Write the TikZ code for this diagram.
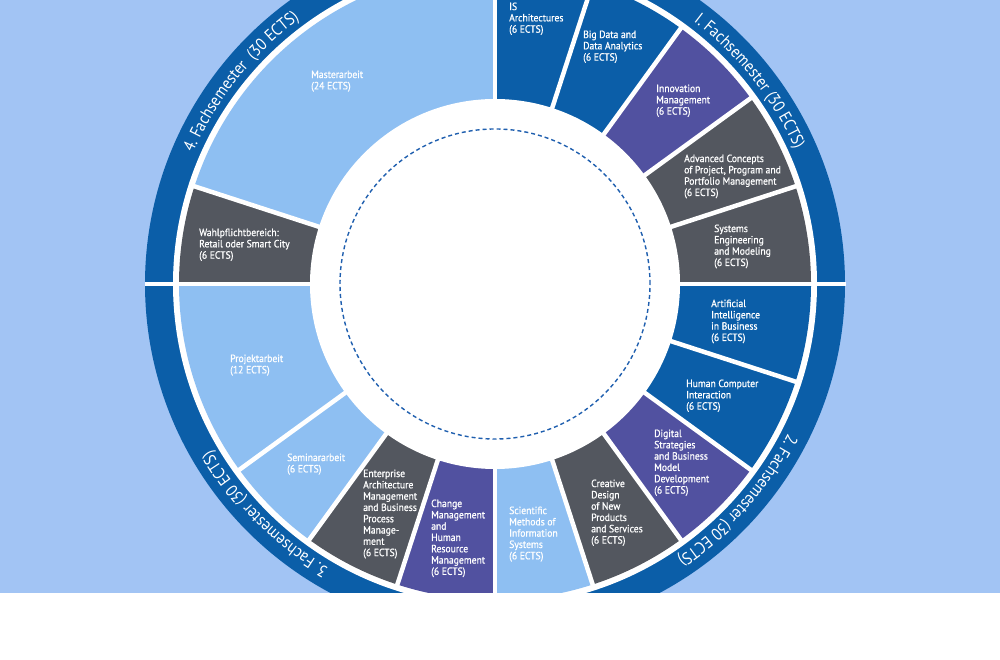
\documentclass[tikz,border=0pt]{standalone}
\usepackage{fontspec}
\setmainfont{PT Sans}
\newfontfamily\segfont[FakeStretch=0.92,FakeBold=0.8]{PT Sans}
\newfontfamily\ringfont[FakeStretch=0.88]{PT Sans}
\usetikzlibrary{decorations.text}
\definecolor{bgblue}{HTML}{A2C4F4}
\definecolor{lightseg}{HTML}{8EBFF2}
\definecolor{darkseg}{HTML}{0B5EA8}
\definecolor{purpseg}{HTML}{5151A0}
\definecolor{grayseg}{HTML}{53575F}
\definecolor{dashblue}{HTML}{1F5FAF}
\begin{document}
\begin{tikzpicture}[x=1pt,y=1pt,
  lbl/.style={anchor=north west, inner sep=0pt, align=left, text=white,
    font=\segfont\fontsize{10.5}{11.3}\selectfont},
  sepline/.style={white, line width=4.5pt},
  ringtext/.style={decorate, decoration={text along path, text align=center,
    text color=white, text={|\ringfont\fontsize{17}{17}\selectfont|#1}}},
]
\useasboundingbox (0,0) rectangle (1000,660);
\fill[bgblue] (0,0) rectangle (1000,660);
\begin{scope}[shift={(495,376)}]
  \coordinate (C) at (0,0);
  \fill[darkseg] (C) circle[radius=350];
  \fill[white] (C) circle[radius=322];
  % segments
  \foreach \a/\b/\c in {90/72/darkseg,72/54/darkseg,54/36/purpseg,36/18/grayseg,18/0/grayseg,
      0/-18/darkseg,-18/-36/darkseg,-36/-54/purpseg,-54/-72/grayseg,-72/-90/lightseg,
      -90/-108/purpseg,-108/-126/grayseg,-126/-144/lightseg,-144/-180/lightseg,
      180/162/grayseg,162/90/lightseg}{
    \fill[\c] (C) -- (\a:316) arc[start angle=\a, end angle=\b, radius=316] -- cycle;
  }
  % separators
  \foreach \a in {72,54,36,18,-18,-36,-54,-72,-108,-126,-144,162}{
    \draw[sepline] (C) -- (\a:319);
  }
  \foreach \a in {0,90,180,270}{
    \draw[sepline] (C) -- (\a:350.5);
  }
  \fill[white] (C) circle[radius=185];
  \draw[dashblue, line width=1.4pt, dash pattern=on 4pt off 3pt] (C) circle[radius=155];
  % ring texts
  \path[ringtext={I. Fachsemester (30 ECTS)}] (83.5:329) arc[start angle=83.5, end angle=-6.5, radius=329];
  \path[ringtext={2. Fachsemester (30 ECTS)}] (3.3:329) arc[start angle=3.3, end angle=-86.7, radius=329];
  \path[ringtext={3. Fachsemester (30 ECTS)}] (-90:329) arc[start angle=-90, end angle=-180, radius=329];
  \path[ringtext={4. Fachsemester\ \ (30 ECTS)}] (186.5:329) arc[start angle=186.5, end angle=96.5, radius=329];
\end{scope}
% segment labels
\node[lbl] (is) at (509,657.6) {IS\\Architectures\\(6 ECTS)};
\node[lbl] (bigdata) at (583,629.6) {Big Data and\\Data Analytics\\(6 ECTS)};
\node[lbl] (innov) at (656,575.6) {Innovation\\Management\\(6 ECTS)};
\node[lbl] (adv) at (684,505.6) {Advanced Concepts\\of Project, Program and\\Portfolio Management\\(6 ECTS)};
\node[lbl] (syseng) at (714,435.6) {Systems\\Engineering\\and Modeling\\(6 ECTS)};
\node[lbl] (ai) at (711,360.6) {Artificial\\Intelligence\\in Business\\(6 ECTS)};
\node[lbl] (hci) at (686,280.6) {Human Computer\\Interaction\\(6 ECTS)};
\node[lbl] (digital) at (654,230.6) {Digital\\Strategies\\and Business\\Model\\Development\\(6 ECTS)};
\node[lbl] (creative) at (591,180.6) {Creative\\Design\\of New\\Products\\and Services\\(6 ECTS)};
\node[lbl] (scientific) at (509,153.6) {Scientific\\Methods of\\Information\\Systems\\(6 ECTS)};
\node[lbl] (change) at (431,160.6) {Change\\Management\\and\\Human\\Resource\\Management\\(6 ECTS)};
\node[lbl] (enterprise) at (363,190.6) {Enterprise\\Architecture\\Management\\and Business\\Process\\Manage-\\ment\\(6 ECTS)};
\node[lbl] (seminar) at (287,206.6) {Seminararbeit\\(6 ECTS)};
\node[lbl] (projekt) at (230,305.6) {Projektarbeit\\(12 ECTS)};
\node[lbl] (wahl) at (199,431.6) {Wahlpflichtbereich:\\Retail oder Smart City\\(6 ECTS)};
\node[lbl] (master) at (311,589.6) {Masterarbeit\\(24 ECTS)};
\fill[white] (0,0) rectangle (1000,67);
\end{tikzpicture}
\end{document}
